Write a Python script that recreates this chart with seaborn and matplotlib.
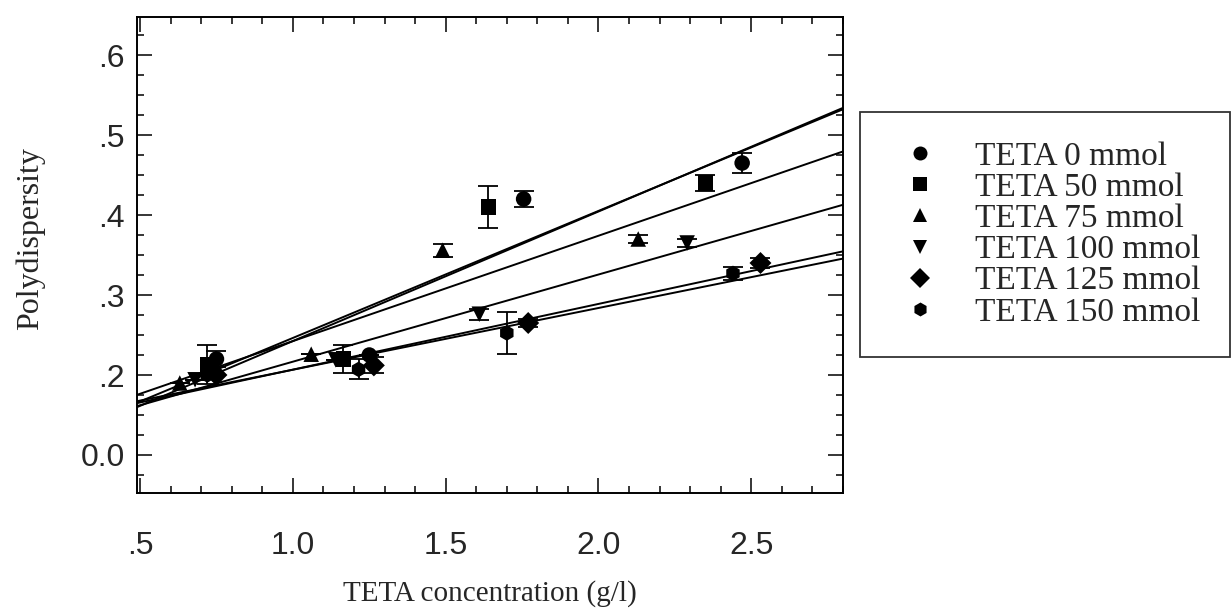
import numpy as np
import pandas as pd
import matplotlib
matplotlib.use("Agg")
import matplotlib.pyplot as plt
import seaborn as sns
from matplotlib.ticker import MultipleLocator, FixedLocator, FixedFormatter

# ---- data: TETA concentration (g/l) vs polydispersity for each TETA loading ----
series = ["TETA 0 mmol", "TETA 50 mmol", "TETA 75 mmol",
          "TETA 100 mmol", "TETA 125 mmol", "TETA 150 mmol"]
marker_shapes = ["o", "s", "^", "v", "D", "h"]

conc_0 = [0.75, 1.25, 1.755, 2.47]
pdi_0 = [0.22, 0.225, 0.42, 0.465]
err_0 = [0.010, 0.0, 0.010, 0.012]

conc_50 = [0.72, 1.165, 1.64, 2.35]
pdi_50 = [0.213, 0.22, 0.41, 0.44]
err_50 = [0.024, 0.017, 0.026, 0.010]

conc_75 = [0.63, 1.06, 1.49, 2.13]
pdi_75 = [0.19, 0.226, 0.356, 0.37]
err_75 = [0.0, 0.0, 0.008, 0.005]

conc_100 = [0.68, 1.14, 1.61, 2.29]
pdi_100 = [0.194, 0.219, 0.276, 0.365]
err_100 = [0.0, 0.0, 0.007, 0.005]

conc_125 = [0.75, 1.265, 1.77, 2.53]
pdi_125 = [0.20, 0.212, 0.265, 0.34]
err_125 = [0.0, 0.010, 0.005, 0.006]

conc_150 = [0.72, 1.215, 1.70, 2.44]
pdi_150 = [0.20, 0.207, 0.2525, 0.327]
err_150 = [0.0, 0.0125, 0.026, 0.008]

x_ticks = [0.5, 1.0, 1.5, 2.0, 2.5]
x_tick_labels = [".5", "1.0", "1.5", "2.0", "2.5"]
y_ticks = [0.1, 0.2, 0.3, 0.4, 0.5, 0.6]
y_tick_labels = ["0.0", ".2", ".3", ".4", ".5", ".6"]

concs = [conc_0, conc_50, conc_75, conc_100, conc_125, conc_150]
pdis = [pdi_0, pdi_50, pdi_75, pdi_100, pdi_125, pdi_150]
errs = [err_0, err_50, err_75, err_100, err_125, err_150]

df = pd.concat(
    [pd.DataFrame({"conc": c, "pdi": p, "err": e, "series": s})
     for c, p, e, s in zip(concs, pdis, errs, series)],
    ignore_index=True,
)

# ---- style ----
sns.set_theme(style="ticks")
plt.rcParams["font.family"] = ["Liberation Sans", "DejaVu Sans"]
serif = ["Liberation Serif", "DejaVu Serif"]

fig = plt.figure(figsize=(12.32, 6.10), dpi=100)
ax = fig.add_axes([137 / 1232, 1 - 493 / 610, (843 - 137) / 1232, (493 - 17) / 610])
XLIM = (0.49, 2.80)
YLIM = (0.0525, 0.6475)
ax.set_xlim(*XLIM)
ax.set_ylim(*YLIM)

# least-squares line for every series across the full x range
for s in series:
    sub = df[df["series"] == s]
    sns.regplot(data=sub, x="conc", y="pdi", scatter=False, ci=None,
                truncate=False, color="black",
                line_kws=dict(lw=1.4, zorder=2), ax=ax)
ax.set_xlim(*XLIM)
ax.set_ylim(*YLIM)

# error bars
ax.errorbar(df["conc"], df["pdi"], yerr=df["err"], fmt="none",
            ecolor="black", elinewidth=1.3, capsize=7, capthick=1.3, zorder=3)

# markers
sns.scatterplot(data=df, x="conc", y="pdi", style="series",
                markers=dict(zip(series, marker_shapes)),
                color="black", s=125, linewidth=0, ax=ax, zorder=4)

# ---- axes cosmetics ----
ax.xaxis.set_major_locator(FixedLocator(x_ticks))
ax.xaxis.set_major_formatter(FixedFormatter(x_tick_labels))
ax.xaxis.set_minor_locator(MultipleLocator(0.1))
ax.yaxis.set_major_locator(FixedLocator(y_ticks))
ax.yaxis.set_major_formatter(FixedFormatter(y_tick_labels))
ax.yaxis.set_minor_locator(MultipleLocator(0.025))

ax.tick_params(which="both", direction="in", top=True, right=True,
               color="black", width=1.1)
ax.tick_params(which="major", length=11, labelsize=23)
ax.tick_params(axis="x", which="major", pad=27)
ax.tick_params(axis="y", which="major", pad=9)
ax.tick_params(which="minor", length=5)
for sp in ax.spines.values():
    sp.set_linewidth(1.4)
    sp.set_color("black")

ax.set_xlabel("TETA concentration (g/l)", family=serif, fontsize=21, labelpad=14)
ax.set_ylabel("Polydispersity", family=serif, fontsize=23)
ax.yaxis.set_label_coords(-0.130, 0.535)

sns.move_legend(ax, loc="upper left",
                bbox_to_anchor=(860 / 1232, 1 - 112 / 610),
                bbox_transform=fig.transFigure,
                title=None, frameon=True, fancybox=False,
                prop={"family": serif, "size": 24},
                labelspacing=0.02, handletextpad=0.72, borderpad=0.88,
                borderaxespad=0, markerscale=0.9, handlelength=1.85)
leg = ax.get_legend()
leg.get_frame().set_edgecolor("black")
leg.get_frame().set_linewidth(1.3)

fig.savefig("out.png", dpi=100)
